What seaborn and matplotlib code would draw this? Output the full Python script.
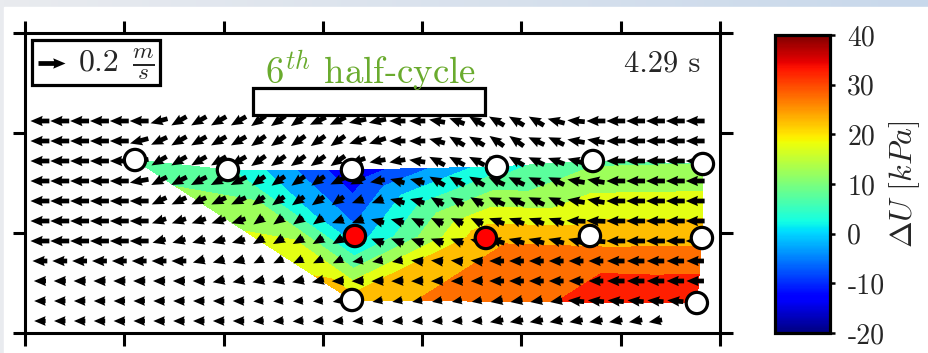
import numpy as np
import pandas as pd
import matplotlib
matplotlib.use("Agg")
import matplotlib.pyplot as plt
import matplotlib.tri as mtri
from matplotlib.patches import Rectangle
from matplotlib.colors import Normalize
from matplotlib.cm import ScalarMappable
import seaborn as sns

# ---------------- data ----------------
# pressure sensors (position in m, excess pore pressure in kPa)
sensor_x = [1.108, 2.044, 3.293, 4.753, 5.720, 6.828, 3.323, 4.642, 5.690, 6.818, 3.293, 6.767]
sensor_y = [1.73, 1.63, 1.63, 1.66, 1.72, 1.69, 0.97, 0.95, 0.97, 0.95, 0.33, 0.30]
delta_u = [7.0, 6.0, -14.0, 3.0, 9.0, 10.0, -3.0, 24.0, 23.0, 23.5, 22.7, 35.0]
sensor_state = ["ok"] * 6 + ["flagged", "flagged"] + ["ok"] * 4

# PIV grid
grid_x = np.round(0.15 + 0.2 * np.arange(34), 2)
grid_y = [2.12, 1.92, 1.72, 1.52, 1.32, 1.12, 0.92, 0.72, 0.52, 0.32, 0.12]

# direction of velocity vectors (deg, counter-clockwise from +x), one list per row
ang0 = [180,180,180,180,180,180,195,210,210,210,210,215,215,215,205,205,192,192,180,180,170,160,150,150,150,150,165,175,180,180,180,180,180,180]
ang1 = [180,180,180,180,180,195,205,210,210,210,210,215,215,215,215,215,198,198,180,180,165,150,150,145,145,155,155,170,170,180,180,180,180,180]
ang2 = [180,180,180,180,180,190,210,210,210,210,210,215,215,215,215,215,200,190,190,172,152,152,152,150,150,155,160,165,175,180,180,180,180,180]
ang3 = [180,180,180,180,180,190,207,207,207,207,207,215,215,215,215,205,205,190,165,165,150,150,150,155,155,155,155,170,170,180,180,180,180,180]
ang4 = [180,180,180,180,180,180,205,205,205,205,205,215,215,215,215,215,200,200,165,165,150,150,150,155,155,155,155,170,170,180,180,180,180,180]
ang5 = [180,180,180,180,180,180,198,198,198,198,198,215,215,215,215,200,200,165,165,155,155,155,155,160,160,160,160,178,178,180,180,180,180,180]
ang6 = [180,180,180,180,180,180,195,195,195,195,195,210,210,210,210,210,200,160,160,160,160,160,165,165,165,165,165,165,175,180,180,180,180,180]
ang7 = [180,180,180,180,180,180,180,180,195,195,195,205,205,205,205,205,190,190,190,175,175,175,175,180,180,180,180,180,180,180,180,180,180,180]
ang8 = [180,180,180,180,180,180,180,180,180,192,192,192,192,192,192,182,182,182,182,182,182,182,182,180,180,180,180,180,180,180,180,180,180,180]
ang9 = [180,180,180,180,180,180,180,180,180,180,180,185,185,185,185,190,190,190,190,190,190,190,190,190,190,190,190,175,175,175,175,175,175,175]
ang10 = [180,180,180,180,180,180,180,180,180,180,180,185,185,185,185,185,185,185,185,185,185,185,185,190,190,190,190,190,190,190,190,190,np.nan,np.nan]

# speed of velocity vectors (m/s), one list per row
spd0 = [.14,.14,.14,.14,.14,.14,.13,.13,.13,.13,.13,.13,.13,.13,.13,.13,.13,.13,.12,.12,.12,.12,.13,.13,.13,.13,.13,.13,.14,.14,.14,.14,.14,.14]
spd1 = [.14,.14,.14,.14,.14,.14,.13,.13,.13,.13,.13,.13,.13,.13,.13,.13,.13,.13,.12,.12,.12,.13,.13,.13,.13,.13,.13,.13,.13,.14,.14,.14,.14,.14]
spd2 = [.14,.14,.14,.14,.14,.14,.13,.13,.13,.13,.13,.13,.13,.13,.13,.13,.12,.12,.12,.12,.13,.13,.13,.13,.13,.13,.13,.13,.13,.14,.14,.14,.14,.14]
spd3 = [.14,.14,.14,.14,.14,.14,.13,.13,.13,.13,.13,.12,.12,.12,.12,.12,.12,.11,.11,.11,.13,.13,.13,.13,.13,.13,.13,.13,.13,.14,.14,.14,.14,.14]
spd4 = [.14,.14,.14,.14,.14,.14,.12,.12,.12,.12,.12,.11,.11,.11,.11,.11,.09,.09,.11,.11,.11,.11,.11,.13,.13,.13,.13,.13,.13,.14,.14,.14,.14,.14]
spd5 = [.14,.14,.14,.14,.14,.14,.11,.11,.11,.11,.11,.09,.09,.09,.09,.09,.09,.10,.10,.10,.10,.10,.10,.12,.12,.12,.12,.14,.14,.14,.14,.14,.14,.14]
spd6 = [.14,.14,.14,.14,.14,.14,.10,.10,.10,.10,.10,.09,.09,.09,.09,.09,.09,.10,.10,.10,.10,.10,.10,.12,.12,.12,.12,.12,.14,.14,.14,.14,.14,.14]
spd7 = [.11,.11,.11,.11,.11,.11,.11,.11,.09,.09,.09,.08,.08,.08,.08,.08,.08,.08,.08,.09,.09,.09,.09,.11,.11,.11,.11,.11,.11,.13,.13,.13,.13,.13]
spd8 = [.09,.09,.09,.09,.09,.09,.09,.09,.09,.09,.09,.09,.09,.09,.09,.09,.09,.09,.09,.09,.09,.09,.09,.11,.11,.11,.11,.11,.11,.13,.13,.13,.13,.13]
spd9 = [.085,.085,.085,.085,.085,.085,.085,.085,.085,.085,.085,.075,.075,.075,.075,.075,.075,.075,.075,.075,.075,.075,.075,.09,.09,.09,.09,.12,.12,.12,.12,.12,.12,.12]
spd10 = [.085,.085,.085,.085,.085,.085,.085,.085,.085,.085,.085,.08,.08,.08,.08,.08,.08,.08,.08,.08,.08,.08,.08,.10,.10,.10,.10,.10,.10,.10,.10,.10,np.nan,np.nan]

cbar_ticks = [-20, -10, 0, 10, 20, 30, 40]
cbar_ticklabels = ["-20", "-10", "0", "10", "20", "30", "40"]
key_speed = 0.2
time_label = "4.29 s"
title_label = r"$6^{th}$ half-cycle"
cbar_label = r"$\Delta U\ [kPa]$"

# structure (plate) outline in data units
plate_xy, plate_w, plate_h = (2.296, 2.18), 2.336, 0.27

# ---------------- style ----------------
sns.set_style("white")
plt.rcParams["font.family"] = ["cmr10", "DejaVu Serif"]
plt.rcParams["mathtext.fontset"] = "cm"
plt.rcParams["axes.unicode_minus"] = False
plt.rcParams["axes.formatter.use_mathtext"] = True

W, H = 929, 353
fig = plt.figure(figsize=(W / 100, H / 100), dpi=100)

# screenshot-like background frame
bg = fig.add_axes([0, 0, 1, 1], zorder=-10)
grad = np.linspace(0, 1, 256)[None, :, None]
c0 = np.array([233, 235, 239]) / 255
c1 = np.array([200, 216, 235]) / 255
bg.imshow(c0 * (1 - grad) + c1 * grad, aspect="auto", extent=[0, 1, 0, 1])
bg.add_patch(Rectangle((4 / W, 0), 1, 1 - 7 / H, color="white", transform=bg.transAxes))
bg.set_xlim(0, 1); bg.set_ylim(0, 1); bg.axis("off")

ax = fig.add_axes([25 / W, 20 / H, 695 / W, 300 / H])
ax.set_facecolor("white")

# contour of delta U
norm = Normalize(-20, 40)
tri = mtri.Triangulation(sensor_x, sensor_y)
tri.set_mask(mtri.TriAnalyzer(tri).get_flat_tri_mask(min_circle_ratio=0.05, rescale=False))
ax.tricontourf(tri, delta_u, levels=np.arange(-20, 45, 5), cmap="jet", norm=norm, zorder=1)

# velocity vectors
ang = np.array([ang0, ang1, ang2, ang3, ang4, ang5, ang6, ang7, ang8, ang9, ang10], dtype=float)
spd = np.array([spd0, spd1, spd2, spd3, spd4, spd5, spd6, spd7, spd8, spd9, spd10], dtype=float)
GX, GY = np.meshgrid(grid_x, grid_y)
U = spd * np.cos(np.deg2rad(ang))
V = spd * np.sin(np.deg2rad(ang))
ok = np.isfinite(U)
qscale = key_speed / 0.272
qkw = dict(angles="xy", scale_units="xy", scale=qscale, color="black",
           width=0.0068, headwidth=2.2, headlength=2.6, headaxislength=2.4)
ax.quiver(GX[ok], GY[ok], U[ok], V[ok], pivot="middle", zorder=3, **qkw)

# sensors
sensors = pd.DataFrame({"x": sensor_x, "y": sensor_y, "state": sensor_state})
sns.scatterplot(data=sensors, x="x", y="y", hue="state",
                palette={"ok": "white", "flagged": "red"}, s=235,
                edgecolor="black", linewidth=2.3, legend=False, zorder=5, ax=ax)

# plate
ax.add_patch(Rectangle(plate_xy, plate_w, plate_h, facecolor="white",
                       edgecolor="black", lw=2.3, zorder=6))

# key
ax.add_patch(Rectangle((0.07, 2.48), 1.29, 0.45, facecolor="white",
                       edgecolor="black", lw=2.3, zorder=6))
ax.quiver([0.13], [2.705], [key_speed], [0], pivot="tail", zorder=7, **qkw)
ax.text(0.54, 2.70, "0.2", fontsize=23, va="center", ha="left", zorder=7)
ax.text(1.08, 2.69, r"$\frac{m}{s}$", fontsize=24, va="center", ha="left", zorder=7)

ax.text(6.80, 2.61, time_label, fontsize=22, ha="right", va="baseline", zorder=7)
ax.text(2.42, 2.49, title_label, fontsize=26.5, color="#6aab2e", ha="left",
        va="baseline", zorder=7)

ax.set_xlim(0, 7)
ax.set_ylim(0, 3)
ax.set_xticks(range(0, 8))
ax.set_yticks(range(0, 4))
ax.set_xlabel("")
ax.set_ylabel("")
ax.tick_params(direction="out", length=9, width=2.2, top=True, right=True,
               bottom=True, left=True, labelbottom=False, labelleft=False,
               color="black")
for sp in ax.spines.values():
    sp.set_visible(True)
    sp.set_linewidth(2.2)
    sp.set_color("black")

# colorbar
cax = fig.add_axes([775 / W, 20 / H, 55 / W, 298 / H])
cb = fig.colorbar(ScalarMappable(norm=norm, cmap="jet"), cax=cax, ticks=cbar_ticks)
cb.ax.set_yticklabels(cbar_ticklabels)
cb.outline.set_linewidth(2.3)
cb.outline.set_edgecolor("black")
cax.tick_params(direction="out", length=3.5, width=1.8, labelsize=20, pad=9, color="black")
cax.text(2.03, 0.5, cbar_label, rotation=90, ha="left", va="center",
         fontsize=23, transform=cax.transAxes)

fig.savefig("out.png", dpi=100)
